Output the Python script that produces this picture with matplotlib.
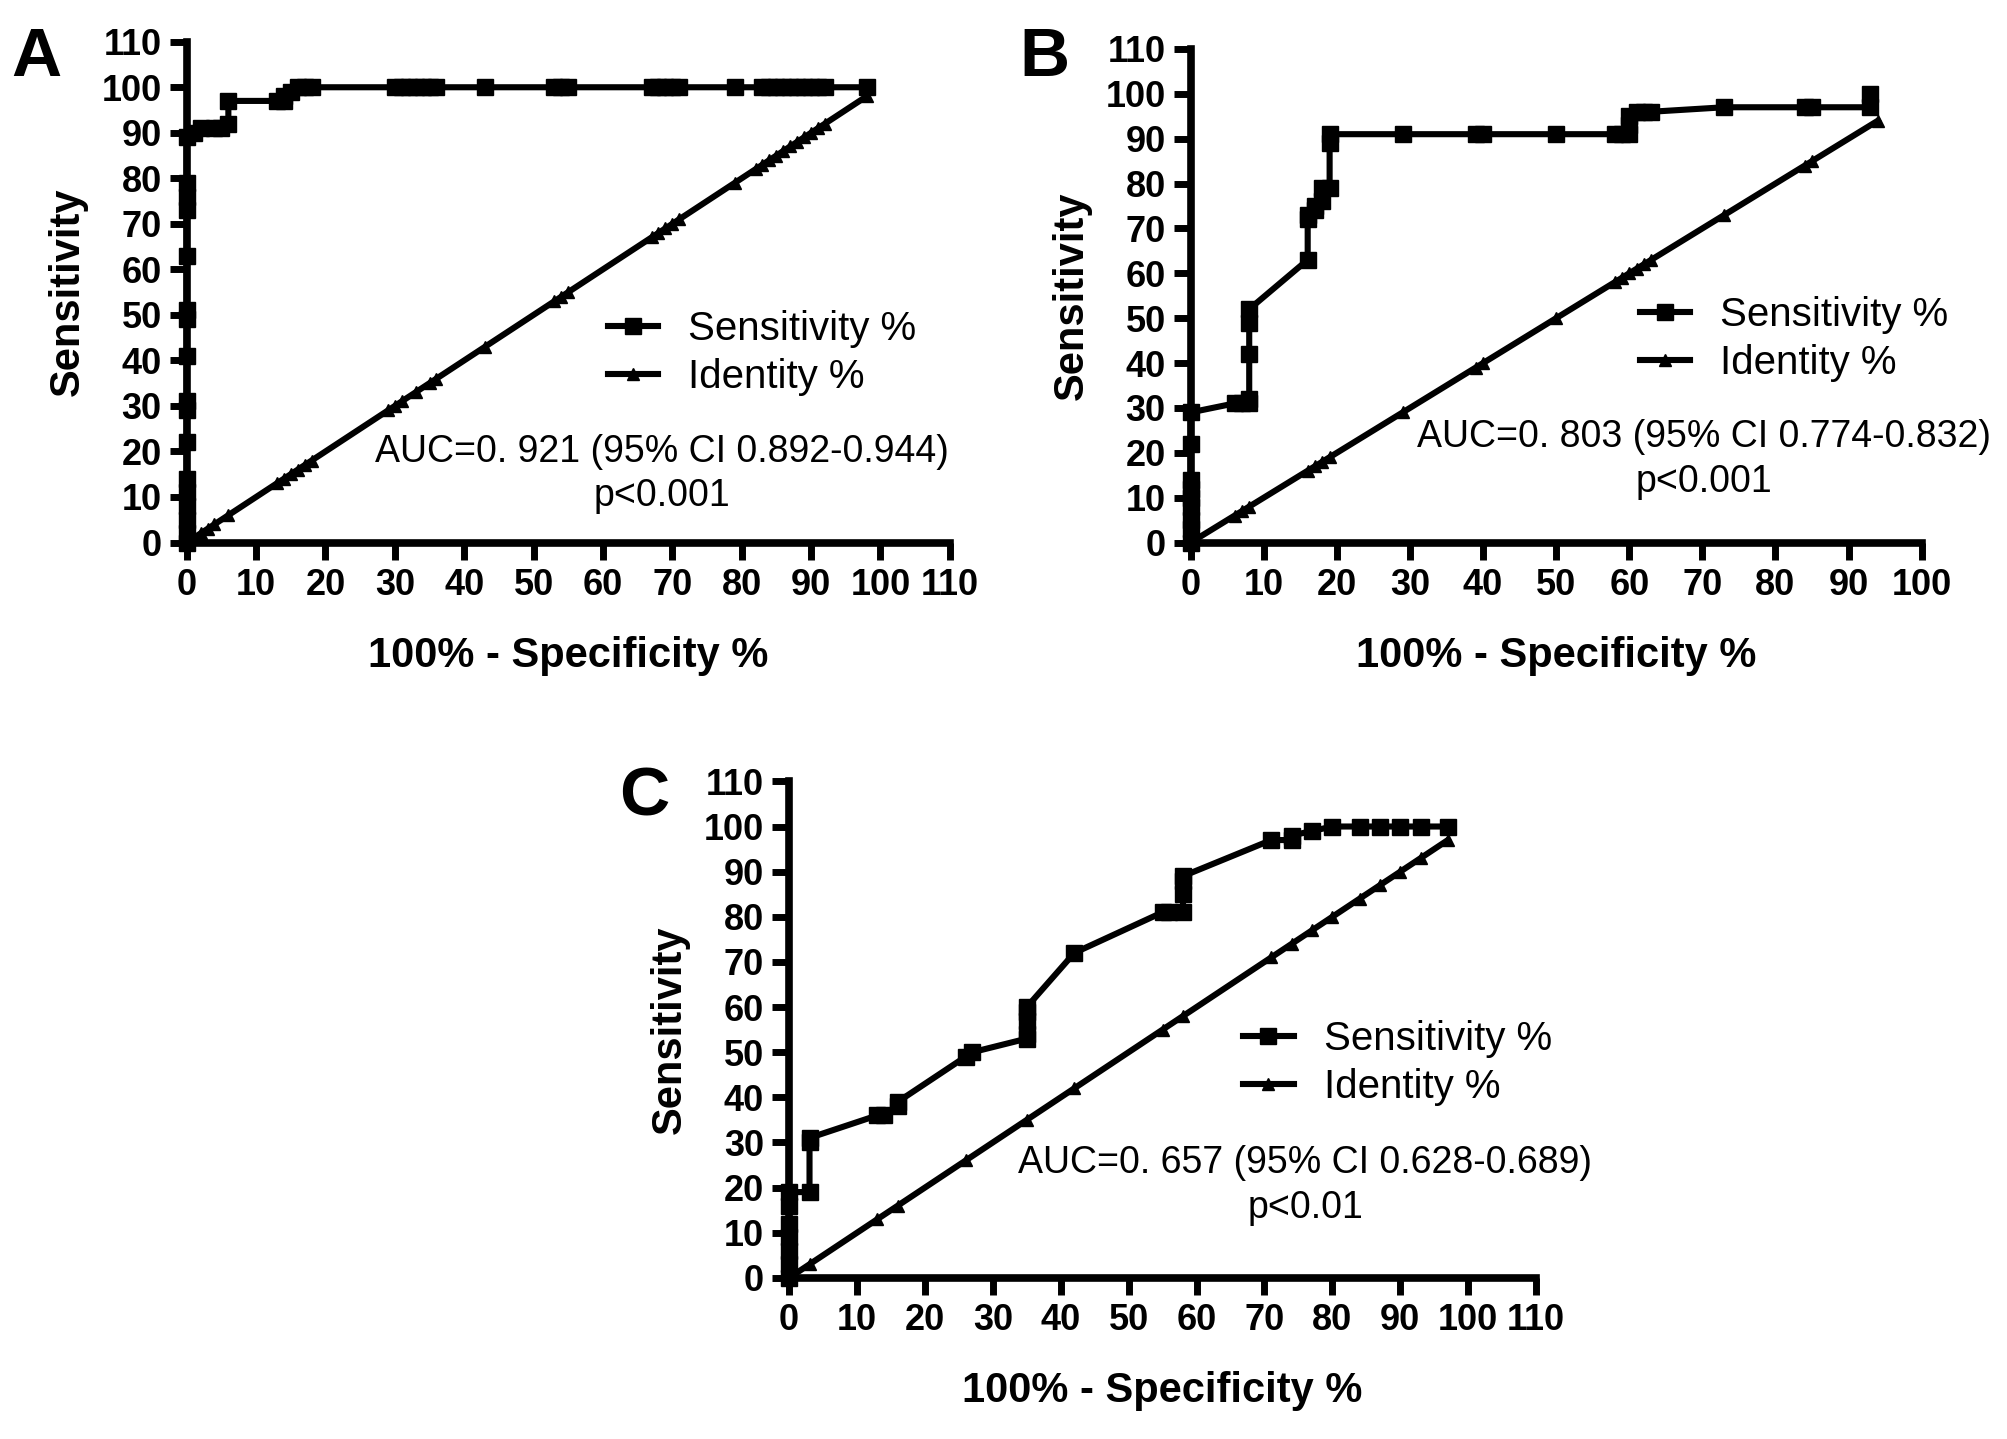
import matplotlib
matplotlib.use("Agg")
import matplotlib.pyplot as plt

plt.rcParams['font.family'] = ['Liberation Sans', 'DejaVu Sans']

# --- Data ---
# Panel A
a_sens_x = [0, 0, 0, 0, 0, 0, 0, 0, 0, 0, 0, 0, 0, 0, 0, 0, 0,
            1, 2, 4, 5, 6, 6,
            13, 14, 14, 15, 16, 17, 18,
            30, 31, 32, 33, 34, 35, 36, 43, 53, 54, 55,
            67, 68, 69, 70, 71, 79, 83, 84, 85, 86, 87, 88, 89, 90, 91, 92, 98]
a_sens_y = [0, 2, 5, 8, 11, 14, 22, 29, 31, 41, 49, 51, 63, 73, 76, 79, 89,
            90, 91, 91, 91, 92, 97,
            97, 97, 98, 99, 100, 100, 100,
            100, 100, 100, 100, 100, 100, 100, 100, 100, 100, 100,
            100, 100, 100, 100, 100, 100, 100, 100, 100, 100, 100, 100, 100, 100, 100, 100, 100]
a_ident = [0, 1, 2, 3, 4, 6, 13, 14, 15, 16, 17, 18, 29, 30, 31, 33, 35, 36, 43,
           53, 54, 55, 67, 68, 69, 70, 71, 79, 82, 83, 84, 85, 86, 87, 88, 89,
           90, 91, 92, 98]

# Panel B
b_sens_x = [0, 0, 0, 0, 0, 0, 0, 0, 0,
            6, 7, 8, 8, 8, 8, 8,
            16, 16, 16, 17, 17, 18, 18, 19, 19, 19,
            29, 39, 40, 50, 58, 59, 60, 60, 60, 61, 62, 63, 73, 84, 85, 93, 93]
b_sens_y = [0, 3, 5, 8, 10, 12, 14, 22, 29,
            31, 31, 31, 32, 42, 49, 52,
            63, 72, 73, 74, 75, 76, 79, 79, 89, 91,
            91, 91, 91, 91, 91, 91, 91, 93, 95, 96, 96, 96, 97, 97, 97, 97, 100]
b_ident = [0, 6, 7, 8, 16, 17, 18, 19, 29, 39, 40, 50, 58, 59, 60, 61, 62, 63,
           73, 84, 85, 94]

# Panel C
c_sens_x = [0, 0, 0, 0, 0, 0, 0, 3, 3, 3, 13, 14, 16, 16, 26, 27,
            35, 35, 35, 35, 35, 42, 55, 56, 58, 58, 58, 58,
            71, 74, 74, 77, 80, 84, 87, 90, 93, 97]
c_sens_y = [0, 3, 6, 9, 12, 16, 19, 19, 30, 31, 36, 36, 38, 39, 49, 50,
            53, 54, 57, 59, 60, 72, 81, 81, 81, 85, 88, 89,
            97, 97, 98, 99, 100, 100, 100, 100, 100, 100]
c_ident = [0, 3, 13, 16, 26, 35, 42, 55, 58, 71, 74, 77, 80, 84, 87, 90, 93, 97]

panels = [
    dict(letter='A', sx=a_sens_x, sy=a_sens_y, ident=a_ident, xmax=110,
         rect=[0.093, 0.623, 0.380, 0.348], leg=(0.552, 0.465),
         auc='AUC=0. 921 (95% CI 0.892-0.944)\np<0.001', auc_xy=(68.5, 15.0),
         letter_xy=(0.018, 0.960)),
    dict(letter='B', sx=b_sens_x, sy=b_sens_y, ident=b_ident, xmax=100,
         rect=[0.593, 0.623, 0.364, 0.343], leg=(0.614, 0.50),
         auc='AUC=0. 803 (95% CI 0.774-0.832)\np<0.001', auc_xy=(70.2, 18.5),
         letter_xy=(0.520, 0.960)),
    dict(letter='C', sx=c_sens_x, sy=c_sens_y, ident=c_ident, xmax=110,
         rect=[0.393, 0.112, 0.372, 0.345], leg=(0.608, 0.52),
         auc='AUC=0. 657 (95% CI 0.628-0.689)\np<0.01', auc_xy=(76.0, 20.5),
         letter_xy=(0.321, 0.446)),
]

fig = plt.figure(figsize=(20.08, 14.39), dpi=100)

for p in panels:
    ax = fig.add_axes(p['rect'])
    ax.plot(p['sx'], p['sy'], color='black', linewidth=4.4, marker='s',
            markersize=11, clip_on=False, zorder=3, label='Sensitivity %')
    ax.plot(p['ident'], p['ident'], color='black', linewidth=4.4, marker='^',
            markersize=8, clip_on=False, zorder=3, label='Identity %')

    ax.set_xlim(0, p['xmax'])
    ax.set_ylim(0, 110)
    ax.set_xticks(range(0, p['xmax'] + 1, 10))
    ax.set_yticks(range(0, 111, 10))

    for side in ['top', 'right']:
        ax.spines[side].set_visible(False)
    for side in ['left', 'bottom']:
        ax.spines[side].set_linewidth(5.5)
    ax.tick_params(direction='out', length=12, width=5, pad=6,
                   labelsize=26)
    for lab in ax.get_xticklabels() + ax.get_yticklabels():
        lab.set_fontweight('bold')

    ax.set_xlabel('100% - Specificity %', fontsize=30, fontweight='bold',
                  labelpad=24)
    ax.set_ylabel('Sensitivity', fontsize=30, fontweight='bold', labelpad=10)

    ax.legend(loc='upper left', bbox_to_anchor=p['leg'], frameon=False,
              fontsize=29, handlelength=1.25, handletextpad=0.75,
              labelspacing=0.25, borderpad=0, borderaxespad=0)

    ax.text(p['auc_xy'][0], p['auc_xy'][1], p['auc'], fontsize=27,
            ha='center', va='center', multialignment='center', linespacing=1.3)

    fig.text(p['letter_xy'][0], p['letter_xy'][1], p['letter'], fontsize=50,
             fontweight='bold', ha='center', va='center')

fig.savefig('out.png', dpi=100)
